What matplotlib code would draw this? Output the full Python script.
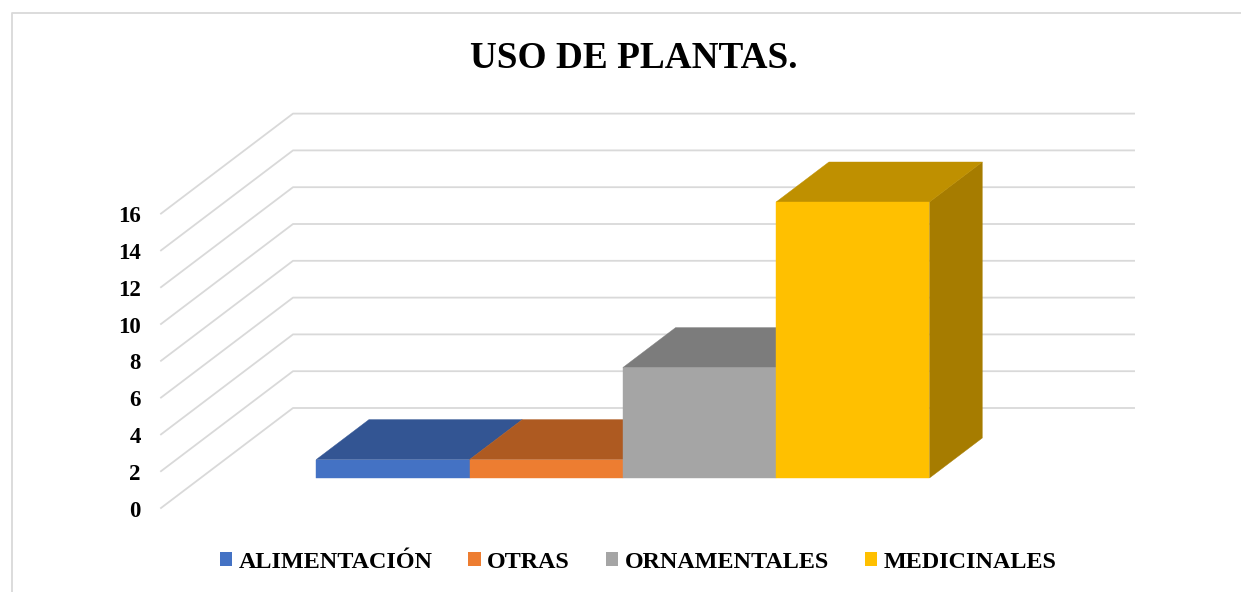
import matplotlib
matplotlib.use("Agg")
from matplotlib import pyplot as plt
from matplotlib.lines import Line2D
from matplotlib.patches import Patch, Polygon
from matplotlib.transforms import ScaledTranslation

categories = ["ALIMENTACIÓN", "OTRAS", "ORNAMENTALES", "MEDICINALES"]
values = [1, 1, 6, 15]
front_colors = ["#4472C4", "#ED7D31", "#A5A5A5", "#FFC000"]
top_colors = ["#335593", "#AE5A21", "#7C7C7C", "#BF9000"]
side_colors = ["#29447A", "#8C481A", "#636363", "#A67C00"]
y_ticks = [0, 2, 4, 6, 8, 10, 12, 14, 16]

W, H = 1241, 592
grid = "#D9D9D9"
plt.rcParams['font.family'] = ['Liberation Serif', 'DejaVu Serif']

fig = plt.figure(figsize=(W / 100, H / 100), dpi=100)
ax = fig.add_axes([161 / W, (H - 508) / H, 842 / W, 294.4 / H])

# oblique look: the floor goes 132px right and 100px up, in data units
x_max = 5.5
ax.set_xlim(0, x_max)
ax.set_ylim(0, 16)
dx = 132 / (842 / x_max)
dy = 100 / (294.4 / 16)
bar_left = 0.755
bar_width = 1.0015


def shift(x, v, d):
    return (x + dx * d, v + dy * d)


for t in y_ticks:
    ax.plot(*zip(shift(0, t, 0), shift(0, t, 1), shift(x_max - 0.006, t, 1)),
            color=grid, lw=1.3, clip_on=False, zorder=1)

for i, v in enumerate(values):
    x0 = bar_left + i * bar_width
    x1 = x0 + bar_width
    d0, d1 = 0.3, 0.7
    side = [shift(x1, 0, d0), shift(x1, 0, d1), shift(x1, v, d1), shift(x1, v, d0)]
    top = [shift(x0, v, d0), shift(x0, v, d1), shift(x1, v, d1), shift(x1, v, d0)]
    front = [shift(x0, 0, d0), shift(x1, 0, d0), shift(x1, v, d0), shift(x0, v, d0)]
    z = 2 + i
    # a side is only seen when the next bar does not stand in front of it
    if i == len(values) - 1 or values[i + 1] < v:
        ax.add_patch(Polygon(side, fc=side_colors[i], ec=side_colors[i], lw=0.3, clip_on=False, zorder=z))
    ax.add_patch(Polygon(top, fc=top_colors[i], ec=top_colors[i], lw=0.3, clip_on=False, zorder=z))
    ax.add_patch(Polygon(front, fc=front_colors[i], ec=front_colors[i], lw=0.3, clip_on=False, zorder=z))

for s in ax.spines.values():
    s.set_visible(False)
ax.patch.set_visible(False)
ax.set_xticks([])
ax.set_yticks(y_ticks)
ax.tick_params(axis='y', length=0, pad=14.5, labelsize=16.5)
down = ScaledTranslation(0, -0.4 / 72, fig.dpi_scale_trans)
for lab in ax.get_yticklabels():
    lab.set_fontweight('bold')
    lab.set_color('black')
    lab.set_transform(lab.get_transform() + down)

fig.text(633.5 / W, 1 - 59 / H, "USO DE PLANTAS.", ha='center', va='center',
         fontsize=26.8, fontweight='bold')

handles = [Patch(fc=c, lw=0) for c in front_colors]
fig.legend(handles, categories, ncol=4, loc='center', bbox_to_anchor=(638 / W, 1 - 562 / H),
           frameon=False, handlelength=0.52, handleheight=0.55, handletextpad=0.25,
           columnspacing=1.49, prop={'weight': 'bold', 'size': 17.4})

fig.add_artist(Line2D([12 / W, 12 / W, 1], [0, 1 - 13 / H, 1 - 13 / H], color=grid, lw=1.3))

fig.savefig("out.png", dpi=100)
